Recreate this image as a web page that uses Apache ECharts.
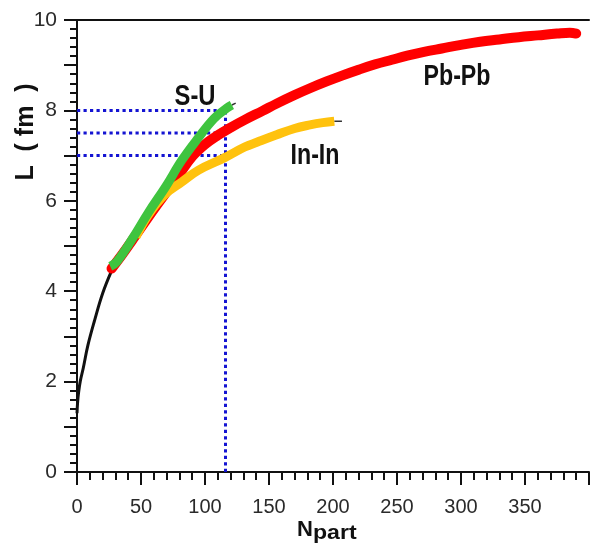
<!DOCTYPE html>
<html><head><meta charset="utf-8">
<script src="https://cdn.jsdelivr.net/npm/echarts@6/dist/echarts.min.js"></script>
<style>html,body{margin:0;padding:0;background:#fff}#c{width:592px;height:554px}</style>
</head><body><div id="c"></div>
<script>
// Data
const blackBase = [[0,1.3],[0.5,1.55],[1.2,1.75],[2.5,2.0],[4.9,2.3],[8.5,2.8],[13.8,3.36],[20,3.95],[27,4.45],[30,4.6]];
const pbpb = [[27,4.5],[35,4.8],[45,5.2],[56,5.65],[68,6.12],[79,6.55],[90,6.98],[100,7.25],[110,7.45],[120,7.62],[131,7.79],[145,7.99],[156,8.15],[170,8.34],[182,8.49],[195,8.64],[207,8.77],[220,8.9],[233,9.02],[246,9.12],[258,9.21],[272,9.3],[285,9.37],[300,9.45],[315,9.52],[330,9.57],[345,9.62],[360,9.66],[375,9.7],[385,9.72],[390,9.7]];
const su = [[26,4.55],[31,4.65],[43,5.15],[56,5.75],[69,6.3],[82,6.9],[95,7.4],[107,7.82],[117,8.05],[121,8.12]];
const suTail = [[121,8.12],[124,8.16]];
const inin = [[46,5.2],[56,5.7],[69,6.15],[82,6.42],[95,6.68],[115,6.95],[131,7.19],[141,7.3],[156,7.46],[170,7.6],[182,7.68],[192,7.73],[201,7.76]];
const ininTail = [[201,7.76],[207,7.76]];
const guideN = 116;
const guideL = [7, 7.5, 8];
const xTicks = [0,50,100,150,200,250,300,350];
const yTicks = [0,2,4,6,8,10];

const tickFont = "'Liberation Sans',Arial,sans-serif";
const boldFont = "bold 29px 'Liberation Sans',Arial,sans-serif";
const blue = '#1414d2';
const dot = {color: blue, width: 3, type: [3.2,3.3]};

const guideSeries = guideL.map(l => ({
  type:'line', data:[[0,l],[guideN,l]], symbol:'none', silent:true, z:1,
  lineStyle: dot
}));
guideSeries.push({type:'line', data:[[guideN,0],[guideN,Math.max(...guideL)]], symbol:'none', silent:true, z:1, lineStyle: dot});

const chart = echarts.init(document.getElementById('c'), null, {renderer:'canvas'});
chart.setOption({
  animation:false,
  backgroundColor:'#fff',
  grid:{left:77, right:-5, top:20, bottom:82, containLabel:false},
  xAxis:[{
    type:'value', min:0, max:400, interval:50, position:'bottom',
    axisLine:{show:true, onZero:false, lineStyle:{color:'#111', width:2}},
    axisTick:{show:true, inside:false, length:13, lineStyle:{color:'#111', width:2}},
    minorTick:{show:true, splitNumber:5, length:8, lineStyle:{color:'#111', width:2}},
    splitLine:{show:false},
    axisLabel:{margin:25, color:'#2a2a2a', fontSize:20, fontFamily:tickFont,
      formatter: v => xTicks.includes(v) ? String(v) : ''}
  },{
    type:'value', min:0, max:400, position:'top',
    axisLine:{show:true, onZero:false, lineStyle:{color:'#111', width:2}},
    axisTick:{show:false}, axisLabel:{show:false}, splitLine:{show:false}
  }],
  yAxis:[{
    type:'value', min:0, max:10, interval:1, position:'left',
    axisLine:{show:true, onZero:false, lineStyle:{color:'#111', width:2}},
    axisTick:{show:true, inside:false, length:13, lineStyle:{color:'#111', width:2}},
    minorTick:{show:true, splitNumber:5, length:7, lineStyle:{color:'#111', width:2}},
    splitLine:{show:false},
    axisLabel:{margin:20, color:'#2a2a2a', fontSize:21, fontFamily:tickFont,
      formatter: v => yTicks.includes(v) ? String(v) : ''}
  }],
  graphic:[
    {type:'text', x:26, y:132, rotation:Math.PI/2, style:{text:'L  ( fm  )', fill:'#111', font:"bold 25px 'Liberation Sans',Arial,sans-serif", align:'center', verticalAlign:'middle'}},
    {type:'text', x:297, y:541, style:{text:'N', fill:'#111', font:"bold 22px 'Liberation Sans',Arial,sans-serif", align:'left', verticalAlign:'bottom'}},
    {type:'text', x:313, y:544, scaleX:1.1, style:{text:'part', fill:'#111', font:"bold 21px 'Liberation Sans',Arial,sans-serif", align:'left', verticalAlign:'bottom'}},
    {type:'text', x:195, y:97, scaleX:0.82, style:{text:'S-U', fill:'#111', font:boldFont, align:'center', verticalAlign:'middle'}},
    {type:'text', x:315, y:156, scaleX:0.8, style:{text:'In-In', fill:'#111', font:boldFont, align:'center', verticalAlign:'middle'}},
    {type:'text', x:457, y:77, scaleX:0.8, style:{text:'Pb-Pb', fill:'#111', font:boldFont, align:'center', verticalAlign:'middle'}}
  ],
  series:[
    ...guideSeries,
    {type:'line', data:blackBase, symbol:'none', smooth:0.4, z:2, lineStyle:{color:'#111', width:3}},
    {type:'line', data:suTail, symbol:'none', z:2, lineStyle:{color:'#333', width:1.5}},
    {type:'line', data:ininTail, symbol:'none', z:2, lineStyle:{color:'#333', width:1.5}},
    {type:'line', name:'Pb-Pb', data:pbpb, symbol:'none', smooth:0.4, z:3, lineStyle:{color:'#ff0000', width:10, cap:'round'}},
    {type:'line', name:'In-In', data:inin, symbol:'none', smooth:0.4, z:4, lineStyle:{color:'#ffc20e', width:9}},
    {type:'line', name:'S-U', data:su, symbol:'none', smooth:0.4, z:5, lineStyle:{color:'#3fc43f', width:9}}
  ]
});
</script></body></html>
